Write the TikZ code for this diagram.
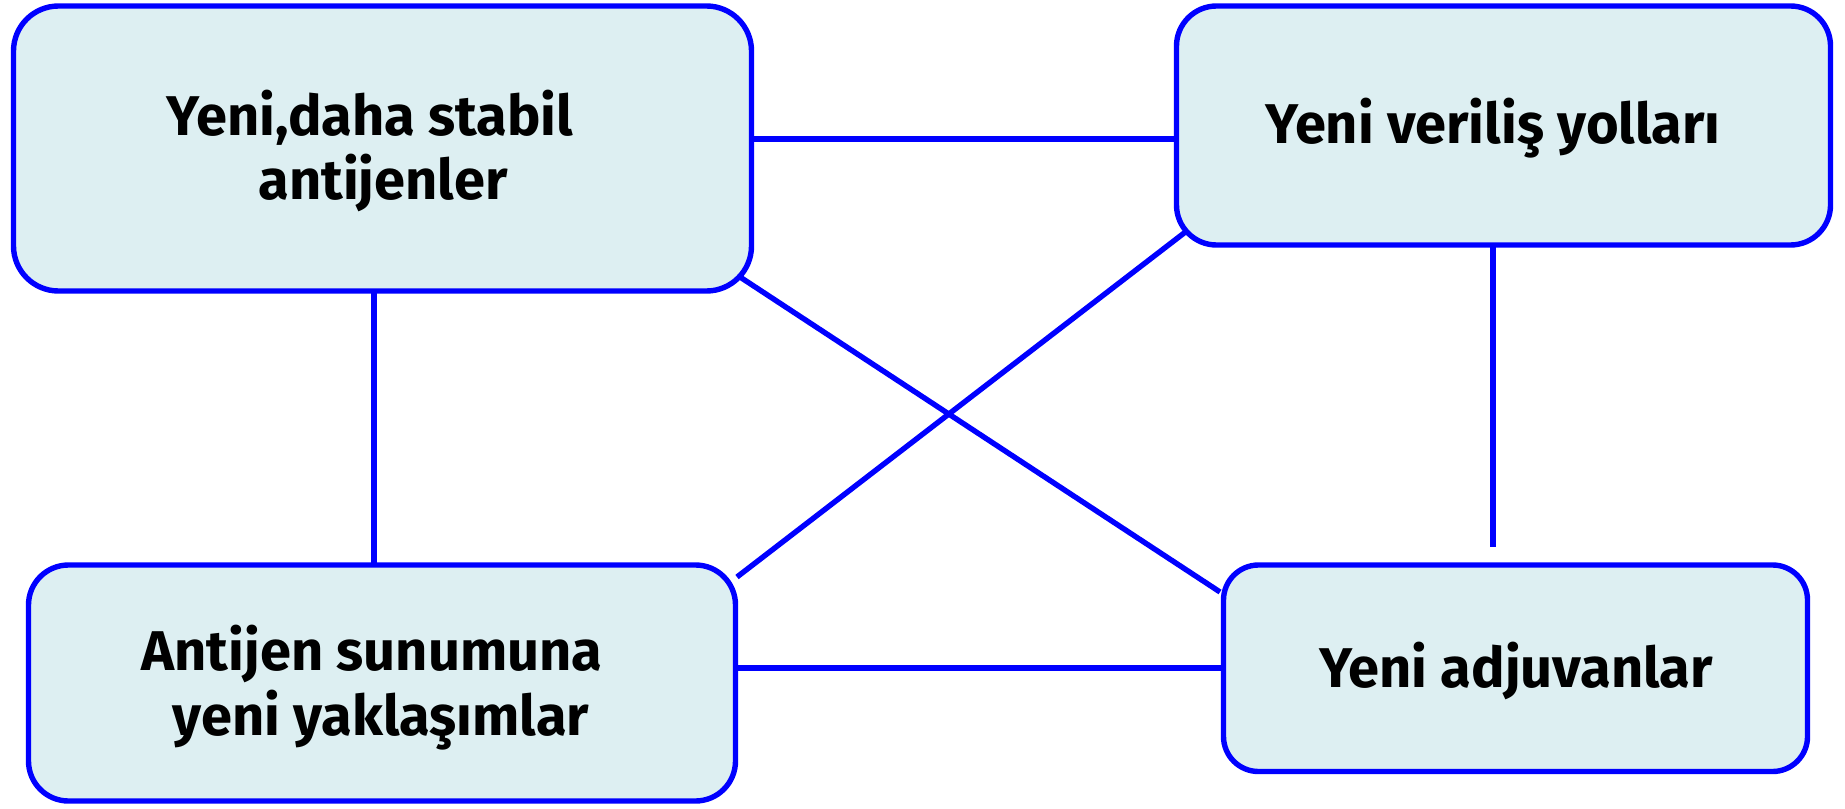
\documentclass[tikz,border=0pt]{standalone}
\usepackage{fontspec}
\setmainfont{Fira Sans}
\definecolor{boxblue}{RGB}{0,0,255}
\definecolor{boxfill}{RGB}{221,239,242}
\begin{document}
\begin{tikzpicture}[x=0.5pt,y=-0.5pt,
  box/.style={draw=boxblue, line width=2.7pt, fill=boxfill, inner sep=0pt, outer sep=0pt, anchor=north west},
  link/.style={draw=boxblue, line width=2.7pt},
  lbl/.style={font=\bfseries\fontsize{28}{32}\selectfont, inner sep=0pt, anchor=base}]
\useasboundingbox (0,0) rectangle (1845,808);
% boxes
\node[box, rounded corners=22.5pt, minimum width=369pt, minimum height=142.5pt] (A) at (13.5,6) {};
\node[box, rounded corners=20pt, minimum width=327pt, minimum height=119.5pt] (B) at (1176.5,6) {};
\node[box, rounded corners=20pt, minimum width=353.5pt, minimum height=118pt] (C) at (28.5,565) {};
\node[box, rounded corners=17.5pt, minimum width=292pt, minimum height=103.25pt] (D) at (1223.5,565) {};
% labels
\node[lbl] (tA1) at (370,135) {Yeni,daha stabil};
\node[lbl] (tA2) at (383,199) {antijenler};
\node[lbl] (tB) at (1493,143) {Yeni veriliş yolları};
\node[lbl] (tC1) at (372,670) {Antijen sunumuna};
\node[lbl] (tC2) at (381,735) {yeni yaklaşımlar};
\node[lbl] (tD) at (1516,687) {Yeni adjuvanlar};
% connectors
\coordinate (bdEnd) at (1493,547);
\draw[link] (A.east |- 0,139) -- (B.west |- 0,139);
\draw[link] (A.south -| 374,0) -- (C.north -| 374,0);
\draw[link] (C.east |- 0,668) -- (D.west |- 0,668);
\draw[link] (B.south -| bdEnd) -- (bdEnd);
\draw[link] ([shift={(-11.5,-14)}]A.south east) -- ([shift={(-3.5,27)}]D.north west);
\draw[link] ([shift={(11.5,-15)}]B.south west) -- ([shift={(1.5,12)}]C.north east);
\end{tikzpicture}
\end{document}
